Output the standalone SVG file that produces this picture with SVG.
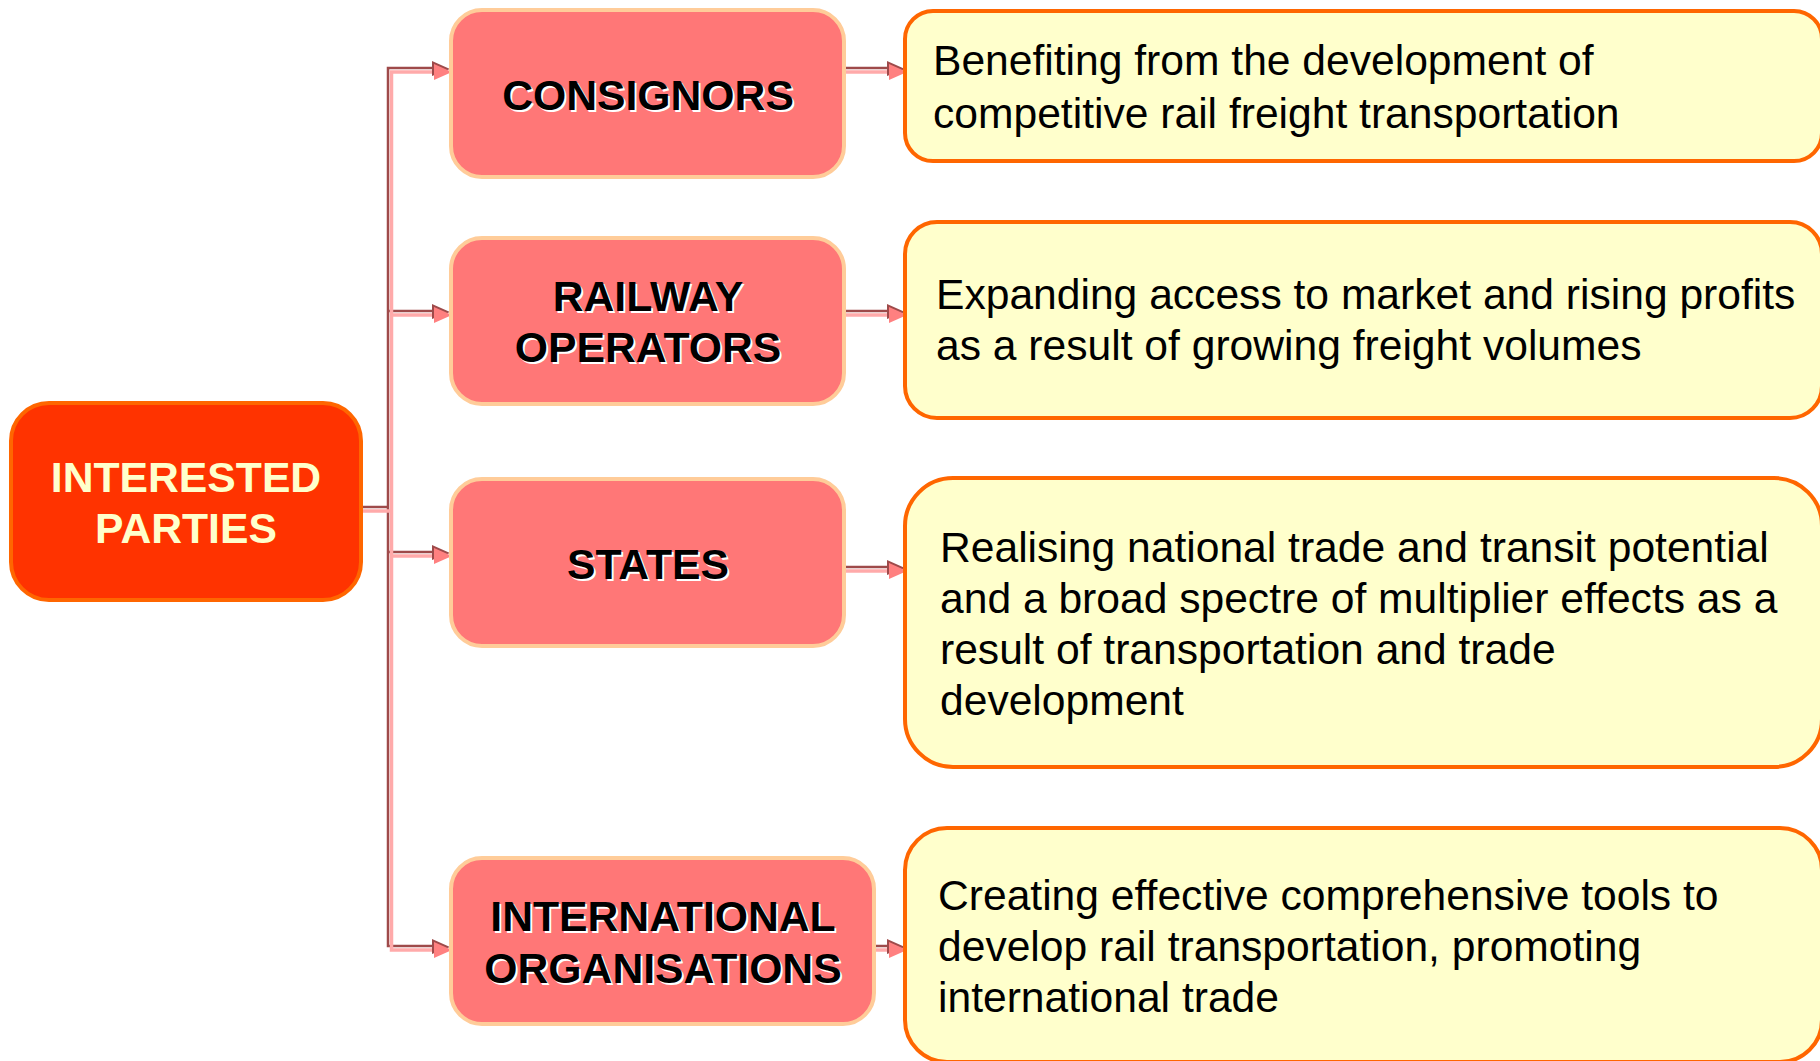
<svg xmlns="http://www.w3.org/2000/svg" width="1820" height="1061" viewBox="0 0 1820 1061">
  <style>
    .root { fill: #FF3300; stroke: #FF6600; stroke-width: 4; }
    .party { fill: #FF7777; stroke: #FFCC99; stroke-width: 4; }
    .note { fill: #FFFFCC; stroke: #FF6600; stroke-width: 4; }
    .rootText { font-family: "Liberation Sans", Arial, sans-serif; font-weight: bold; font-size: 42.7px; fill: #FFFFCC; text-anchor: middle; }
    .label { font-family: "Liberation Sans", Arial, sans-serif; font-weight: bold; font-size: 42.7px; text-anchor: middle; }
    .label .sh { fill: #FFFFFF; }
    .label .fg { fill: #000000; }
    .body { font-family: "Liberation Sans", Arial, sans-serif; font-size: 42.6px; fill: #000000; }
    .dk { fill: none; stroke: #9E4A4A; stroke-width: 2.5; }
    .pk { fill: none; stroke: #FFAAAA; stroke-width: 3.5; }
    .ahd { fill: #9E4A4A; }
    .ahp { fill: #FF8080; }
  </style>
  <defs>
    <g id="arrowhead">
      <polygon class="ahd" points="-18,-8 0,0 -18,7"/>
      <polygon class="ahp" points="-16,-5 2,3 -16,11"/>
    </g>
  </defs>

  <g id="connectors">
    <!-- dark strands -->
    <path class="dk" d="M357,507 H388"/>
    <path class="dk" d="M432,68 H388 V946 H432"/>
    <path class="dk" d="M388,311 H432"/>
    <path class="dk" d="M388,552 H432"/>
    <path class="dk" d="M842,68 H887"/>
    <path class="dk" d="M842,311 H887"/>
    <path class="dk" d="M842,567 H887"/>
    <path class="dk" d="M842,946 H887"/>
    <!-- light strands -->
    <path class="pk" d="M360,511 H392"/>
    <path class="pk" d="M434,72 H391.5 V950 H434"/>
    <path class="pk" d="M391.5,315 H434"/>
    <path class="pk" d="M391.5,556 H434"/>
    <path class="pk" d="M846,72 H889"/>
    <path class="pk" d="M846,315 H889"/>
    <path class="pk" d="M846,571 H889"/>
    <path class="pk" d="M846,950 H889"/>
    <!-- arrowheads -->
    <use href="#arrowhead" x="450" y="69"/>
    <use href="#arrowhead" x="450" y="312"/>
    <use href="#arrowhead" x="450" y="553"/>
    <use href="#arrowhead" x="450" y="947"/>
    <use href="#arrowhead" x="905" y="69"/>
    <use href="#arrowhead" x="905" y="312"/>
    <use href="#arrowhead" x="905" y="568"/>
    <use href="#arrowhead" x="905" y="947"/>
  </g>

  <g id="interested-parties">
    <rect class="root" x="11" y="403" width="350" height="197" rx="38"/>
    <text class="rootText" x="186" y="492">INTERESTED</text>
    <text class="rootText" x="186" y="543">PARTIES</text>
  </g>

  <g id="consignors">
    <rect class="party" x="451" y="10" width="393" height="167" rx="31"/>
    <g class="label">
      <text class="sh" x="650" y="112">CONSIGNORS</text>
      <text class="fg" x="648" y="110">CONSIGNORS</text>
    </g>
  </g>

  <g id="railway-operators">
    <rect class="party" x="451" y="238" width="393" height="166" rx="31"/>
    <g class="label">
      <text class="sh" x="650" y="313">RAILWAY</text>
      <text class="fg" x="648" y="311">RAILWAY</text>
      <text class="sh" x="650" y="364">OPERATORS</text>
      <text class="fg" x="648" y="362">OPERATORS</text>
    </g>
  </g>

  <g id="states">
    <rect class="party" x="451" y="479" width="393" height="167" rx="31"/>
    <g class="label">
      <text class="sh" x="650" y="581">STATES</text>
      <text class="fg" x="648" y="579">STATES</text>
    </g>
  </g>

  <g id="international-organisations">
    <rect class="party" x="451" y="858" width="423" height="166" rx="31"/>
    <g class="label">
      <text class="sh" x="665" y="933">INTERNATIONAL</text>
      <text class="fg" x="663" y="931">INTERNATIONAL</text>
      <text class="sh" x="665" y="985">ORGANISATIONS</text>
      <text class="fg" x="663" y="983">ORGANISATIONS</text>
    </g>
  </g>

  <g id="note-consignors">
    <rect class="note" x="905" y="11" width="917" height="150" rx="28"/>
    <text class="body" x="933" y="75">Benefiting from the development of</text>
    <text class="body" x="933" y="128">competitive rail freight transportation</text>
  </g>

  <g id="note-railway-operators">
    <rect class="note" x="905" y="222" width="917" height="196" rx="32"/>
    <text class="body" x="936" y="309">Expanding access to market and rising profits</text>
    <text class="body" x="936" y="360">as a result of growing freight volumes</text>
  </g>

  <g id="note-states">
    <rect class="note" x="905" y="478" width="917" height="289" rx="48"/>
    <text class="body" x="940" y="562">Realising national trade and transit potential</text>
    <text class="body" x="940" y="613">and a broad spectre of multiplier effects as a</text>
    <text class="body" x="940" y="664">result of transportation and trade</text>
    <text class="body" x="940" y="715">development</text>
  </g>

  <g id="note-international-organisations">
    <rect class="note" x="905" y="828" width="917" height="234" rx="42"/>
    <text class="body" x="938" y="910">Creating effective comprehensive tools to</text>
    <text class="body" x="938" y="961">develop rail transportation, promoting</text>
    <text class="body" x="938" y="1012">international trade</text>
  </g>
</svg>
